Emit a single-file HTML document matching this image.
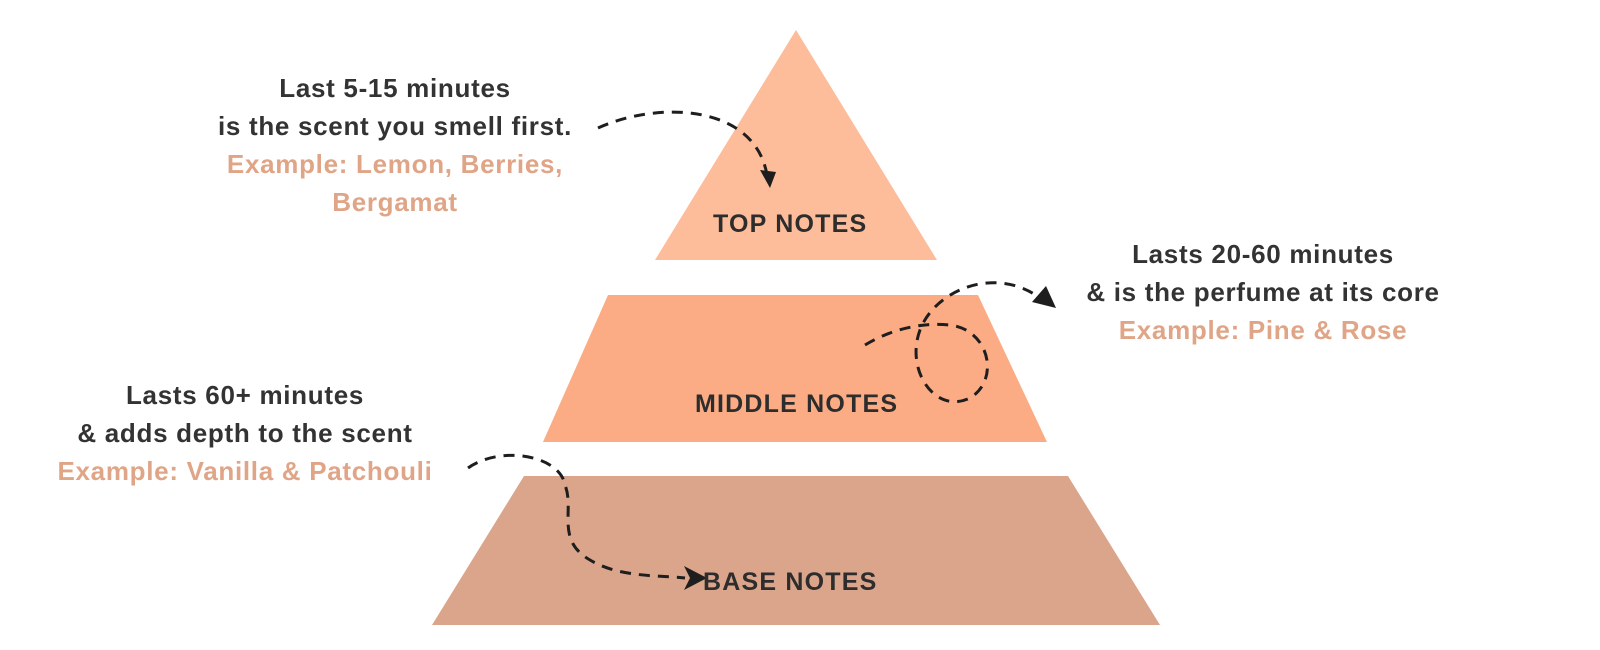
<!DOCTYPE html>
<html><head><style>
body{margin:0;width:1600px;height:650px;background:#fff;overflow:hidden;position:relative;font-family:"Liberation Sans",sans-serif}
.t{position:absolute;font-weight:bold;font-size:26px;letter-spacing:0.7px;color:#333;text-align:center;line-height:38px;white-space:nowrap}
.e{color:#E0A587}
.l{position:absolute;font-weight:bold;font-size:25px;color:#2d2d2d;letter-spacing:1.2px;white-space:nowrap}
</style></head><body>
<svg width="1600" height="650" style="position:absolute;left:0;top:0">
<polygon points="796,30 937,260 655,260" fill="#FDBC9A"/>
<polygon points="608,295 978,295 1047,442 543,442" fill="#FBAC84"/>
<polygon points="524,476 1068,476 1160,625 432,625" fill="#DBA58B"/>
<g fill="none" stroke="#1e1e1e" stroke-width="3" stroke-dasharray="11,8">
<path d="M598,128 C660,100 755,105 767,175"/>
<path d="M865,345 C890,330 920,322 950,325 C990,330 1000,380 970,398 C935,415 905,370 920,330 C935,290 995,265 1040,298"/>
<path d="M468,468 C500,445 560,455 565,485 C575,510 555,540 590,560 C620,578 660,575 685,578"/>
</g>
<g fill="#1e1e1e">
<polygon points="770,188 760,170 776,172"/>
<polygon points="1056,308 1032,302 1046,286"/>
<polygon points="707,578 684,566 690,578 684,590"/>
</g>
</svg>
<div class="t" style="left:145px;top:69px;width:500px">Last 5-15 minutes<br>is the scent you smell first.<br><span class="e">Example: Lemon, Berries,<br>Bergamat</span></div>
<div class="t" style="left:1013px;top:235px;width:500px">Lasts 20-60 minutes<br>&amp; is the perfume at its core<br><span class="e">Example: Pine &amp; Rose</span></div>
<div class="t" style="left:-5px;top:376px;width:500px">Lasts 60+ minutes<br>&amp; adds depth to the scent<br><span class="e">Example: Vanilla &amp; Patchouli</span></div>
<div class="l" style="left:713px;top:210px">TOP NOTES</div>
<div class="l" style="left:695px;top:390px">MIDDLE NOTES</div>
<div class="l" style="left:703px;top:568px">BASE NOTES</div>
</body></html>
